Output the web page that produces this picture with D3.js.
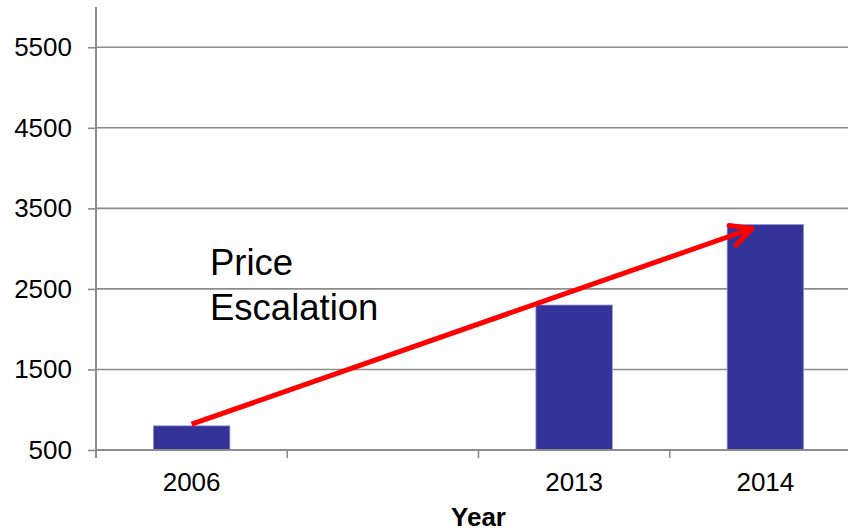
<!DOCTYPE html>
<html>
<head>
<meta charset="utf-8">
<script src="https://cdn.jsdelivr.net/npm/d3@7"></script>
<style>
  html, body { margin: 0; padding: 0; background: #fff; }
  svg { display: block; font-family: "Liberation Sans", Arial, sans-serif; }
</style>
</head>
<body>
<svg id="chart" width="848" height="531"></svg>
<script>
// Price by year (one empty slot between 2006 and 2013)
const years = ["2006", "", "2013", "2014"];
const prices = [800, null, 2300, 3300];
const yTickValues = [500, 1500, 2500, 3500, 4500, 5500];
const yDomain = [500, 6000];
const xTitle = "Year";
const noteLines = ["Price", "Escalation"];
// Arrow runs from the 2006 bar up to the 2014 bar
const arrowFrom = { year: "2006", pos: 0.5, value: 820 };
const arrowTo = { year: "2014", pos: 0.43, value: 3250 };

const svg = d3.select("#chart");
const margin = { left: 96, top: 7, bottom: 81 };
const plotRight = 861;
const H = 531;

const x = d3.scaleBand().domain(years).range([margin.left, plotRight]).padding(0);
const y = d3.scaleLinear().domain(yDomain).range([H - margin.bottom, margin.top]);

const axisColor = "#8c8c8c";
const labelSize = 26;

// Horizontal gridlines
svg.append("g")
  .selectAll("line")
  .data(yTickValues)
  .join("line")
  .attr("x1", margin.left).attr("x2", plotRight)
  .attr("y1", d => y(d)).attr("y2", d => y(d))
  .attr("stroke", axisColor).attr("stroke-width", 1.6);

// Bars: 40% of each band, centred
const barFrac = 0.4;
svg.append("g")
  .selectAll("rect")
  .data(years.map((c, i) => ({ c, v: prices[i] })).filter(d => d.v != null))
  .join("rect")
  .attr("x", d => x(d.c) + x.bandwidth() * (1 - barFrac) / 2)
  .attr("width", x.bandwidth() * barFrac)
  .attr("y", d => y(d.v))
  .attr("height", d => y(yDomain[0]) - y(d.v))
  .attr("fill", "#333399")
  .attr("stroke", "#9a9acc")
  .attr("stroke-width", 0.8);

// Y axis
const yAxis = svg.append("g")
  .attr("transform", `translate(${margin.left},0)`)
  .call(d3.axisLeft(y).tickValues(yTickValues).tickSize(8).tickPadding(16).tickFormat(d3.format("d")));
yAxis.select(".domain").remove();
yAxis.selectAll(".tick line").attr("stroke", axisColor).attr("stroke-width", 1.6);
yAxis.selectAll(".tick text")
  .attr("fill", "#000").attr("font-size", labelSize)
  .attr("font-family", "Liberation Sans, Arial, sans-serif");
svg.append("line")
  .attr("x1", margin.left).attr("x2", margin.left)
  .attr("y1", y(yDomain[1])).attr("y2", y(yDomain[0]) + 8)
  .attr("stroke", axisColor).attr("stroke-width", 2);

// X axis: labels centred in bands, ticks at band boundaries
const xAxis = svg.append("g")
  .attr("transform", `translate(0,${y(yDomain[0])})`)
  .call(d3.axisBottom(x).tickSize(0).tickPadding(23));
xAxis.select(".domain").remove();
xAxis.selectAll(".tick text")
  .attr("fill", "#000").attr("font-size", labelSize)
  .attr("font-family", "Liberation Sans, Arial, sans-serif");
svg.append("line")
  .attr("x1", margin.left).attr("x2", plotRight)
  .attr("y1", y(yDomain[0])).attr("y2", y(yDomain[0]))
  .attr("stroke", axisColor).attr("stroke-width", 2);
svg.append("g")
  .selectAll("line")
  .data(years.map(c => x(c)).concat([x(years[years.length - 1]) + x.bandwidth()]))
  .join("line")
  .attr("x1", d => d).attr("x2", d => d)
  .attr("y1", y(yDomain[0])).attr("y2", y(yDomain[0]) + 8)
  .attr("stroke", axisColor).attr("stroke-width", 1.6);

// Axis title
svg.append("text")
  .attr("x", (margin.left + plotRight) / 2)
  .attr("y", 526)
  .attr("text-anchor", "middle")
  .attr("font-size", labelSize).attr("font-weight", "bold")
  .attr("fill", "#000")
  .text(xTitle);

// Annotation text
svg.append("g")
  .selectAll("text")
  .data(noteLines)
  .join("text")
  .attr("x", 210)
  .attr("y", (d, i) => 275 + i * 45)
  .attr("font-size", 36.5)
  .attr("fill", "#000")
  .text(d => d);

// Arrow
const ax0 = x(arrowFrom.year) + x.bandwidth() * arrowFrom.pos;
const ay0 = y(arrowFrom.value);
const ax1 = x(arrowTo.year) + x.bandwidth() * arrowTo.pos;
const ay1 = y(arrowTo.value);
const ang = Math.atan2(ay0 - ay1, ax0 - ax1); // pointing back along the shaft
const headLen = 23, headSpread = 27 * Math.PI / 180;
const arm = a => [ax1 + headLen * Math.cos(a), ay1 + headLen * Math.sin(a)];
const a1 = arm(ang + headSpread), a2 = arm(ang - headSpread);
const arrow = svg.append("g")
  .attr("stroke", "#ff0000").attr("stroke-width", 5).attr("fill", "none");
arrow.append("line")
  .attr("x1", ax0).attr("y1", ay0).attr("x2", ax1).attr("y2", ay1)
  .attr("stroke-linecap", "butt");
arrow.append("path")
  .attr("d", `M${a1[0]},${a1[1]}L${ax1},${ay1}L${a2[0]},${a2[1]}`)
  .attr("stroke-linecap", "round").attr("stroke-linejoin", "round");
</script>
</body>
</html>
